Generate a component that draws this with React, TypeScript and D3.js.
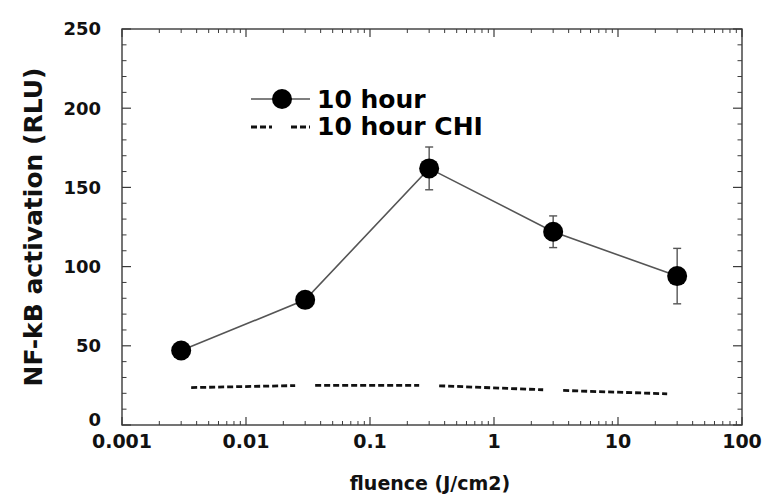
import React from "react";
import * as d3 from "d3";

const fluence = [0.003, 0.03, 0.3, 3, 30];
const activation10h = [47, 79, 162, 122, 94];
const error10h = [2, 4, 13.5, 10, 17.5];
const activationCHI = [23.5, 25, 25, 22, 19.5];
const xTicks = [0.001, 0.01, 0.1, 1, 10, 100];
const xTickLabels = ["0.001", "0.01", "0.1", "1", "10", "100"];
const yTicks = [0, 50, 100, 150, 200, 250];
const legendLabels = ["10 hour", "10 hour CHI"];

const W = 765;
const H = 496;
const L = 122, R = 742, T = 29, B = 425;
const FONT = "'DejaVu Sans', 'Liberation Sans', Arial, sans-serif";
const AX = "#3a3a3a";

export default function App() {
  const x = d3.scaleLog().domain([0.001, 100]).range([L, R]);
  const y = d3.scaleLinear().domain([0, 250]).range([B, T]);

  const minorX: number[] = [];
  for (let d = 0.001; d < 100; d *= 10) {
    for (let k = 2; k <= 9; k++) minorX.push(d * k);
  }
  const minorY = d3.range(0, 251, 10).filter((v) => v % 50 !== 0);

  const line = d3
    .line<number>()
    .x((_, i) => x(fluence[i]))
    .y((d) => y(d));

  // CHI dashed segments with gaps around (hidden) markers
  const gap = 10;
  const chiSegs: string[] = [];
  for (let i = 0; i < fluence.length - 1; i++) {
    const x0 = x(fluence[i]), y0 = y(activationCHI[i]);
    const x1 = x(fluence[i + 1]), y1 = y(activationCHI[i + 1]);
    const len = Math.hypot(x1 - x0, y1 - y0);
    const ux = (x1 - x0) / len, uy = (y1 - y0) / len;
    const p = d3.path();
    p.moveTo(x0 + ux * gap, y0 + uy * gap);
    p.lineTo(x1 - ux * gap, y1 - uy * gap);
    chiSegs.push(p.toString());
  }

  return (
    <svg
      width={W}
      height={H}
      style={{ position: "absolute", left: 0, top: 0, background: "#fff" }}
      fontFamily={FONT}
    >
      <rect x={0} y={0} width={W} height={H} fill="#fff" />
      {/* frame */}
      <rect x={L} y={T} width={R - L} height={B - T} fill="none" stroke={AX} strokeWidth={1.4} />
      {/* x ticks */}
      {xTicks.map((t) => (
        <g key={"xt" + t}>
          <line x1={x(t)} x2={x(t)} y1={B} y2={B - 8} stroke={AX} strokeWidth={1.2} />
          <line x1={x(t)} x2={x(t)} y1={T} y2={T + 8} stroke={AX} strokeWidth={1.2} />
        </g>
      ))}
      {minorX.map((t) => (
        <g key={"xm" + t}>
          <line x1={x(t)} x2={x(t)} y1={B} y2={B - 4} stroke={AX} strokeWidth={1} />
          <line x1={x(t)} x2={x(t)} y1={T} y2={T + 4} stroke={AX} strokeWidth={1} />
        </g>
      ))}
      {/* y ticks */}
      {yTicks.map((t) => (
        <g key={"yt" + t}>
          <line x1={L} x2={L + 9} y1={y(t)} y2={y(t)} stroke={AX} strokeWidth={1.2} />
          <line x1={R} x2={R - 9} y1={y(t)} y2={y(t)} stroke={AX} strokeWidth={1.2} />
        </g>
      ))}
      {minorY.map((t) => (
        <g key={"ym" + t}>
          <line x1={L} x2={L + 4.5} y1={y(t)} y2={y(t)} stroke={AX} strokeWidth={1} />
          <line x1={R} x2={R - 4.5} y1={y(t)} y2={y(t)} stroke={AX} strokeWidth={1} />
        </g>
      ))}
      {/* tick labels */}
      {yTicks.map((t) => (
        <text
          key={"yl" + t}
          x={L - 21}
          y={y(t) - (t === 0 ? 5 : 0)}
          dy="0.36em"
          textAnchor="end"
          fontWeight="bold"
          fontSize={18}
          fill="#111"
        >
          {t}
        </text>
      ))}
      {xTicks.map((t, i) => (
        <text
          key={"xl" + t}
          x={x(t)}
          y={448}
          textAnchor="middle"
          fontWeight="bold"
          fontSize={19}
          fill="#111"
        >
          {xTickLabels[i]}
        </text>
      ))}
      {/* axis titles */}
      <text x={(L + R) / 2 - 2} y={490} textAnchor="middle" fontWeight="bold" fontSize={19} fill="#111">
        fluence (J/cm2)
      </text>
      <text
        transform={`translate(42, ${(T + B) / 2}) rotate(-90)`}
        textAnchor="middle"
        fontWeight="bold"
        fontSize={25}
        fill="#111"
      >
        NF-kB activation (RLU)
      </text>

      {/* CHI series */}
      {chiSegs.map((d, i) => (
        <path key={"chi" + i} d={d} fill="none" stroke="#111" strokeWidth={2.8} strokeDasharray="6,3" />
      ))}

      {/* 10 hour series */}
      <path d={line(activation10h) || ""} fill="none" stroke="#555" strokeWidth={1.6} />
      {fluence.map((f, i) => (
        <g key={"eb" + i} stroke="#555" strokeWidth={1.4}>
          <line x1={x(f)} x2={x(f)} y1={y(activation10h[i] + error10h[i])} y2={y(activation10h[i] - error10h[i])} />
          <line x1={x(f) - 4} x2={x(f) + 4} y1={y(activation10h[i] + error10h[i])} y2={y(activation10h[i] + error10h[i])} />
          <line x1={x(f) - 4} x2={x(f) + 4} y1={y(activation10h[i] - error10h[i])} y2={y(activation10h[i] - error10h[i])} />
        </g>
      ))}
      {fluence.map((f, i) => (
        <circle key={"pt" + i} cx={x(f)} cy={y(activation10h[i])} r={10} fill="#000" />
      ))}

      {/* legend */}
      <line x1={251} x2={310} y1={99} y2={99} stroke="#555" strokeWidth={1.6} />
      <circle cx={282} cy={99} r={10} fill="#000" />
      <text x={317} y={108} fontWeight="bold" fontSize={25} fill="#000">
        {legendLabels[0]}
      </text>
      <line x1={251} x2={272} y1={127} y2={127} stroke="#111" strokeWidth={2.8} strokeDasharray="6,3" />
      <line x1={291} x2={310} y1={127} y2={127} stroke="#111" strokeWidth={2.8} strokeDasharray="6,3" />
      <text x={317} y={135} fontWeight="bold" fontSize={25} fill="#000">
        {legendLabels[1]}
      </text>
    </svg>
  );
}
